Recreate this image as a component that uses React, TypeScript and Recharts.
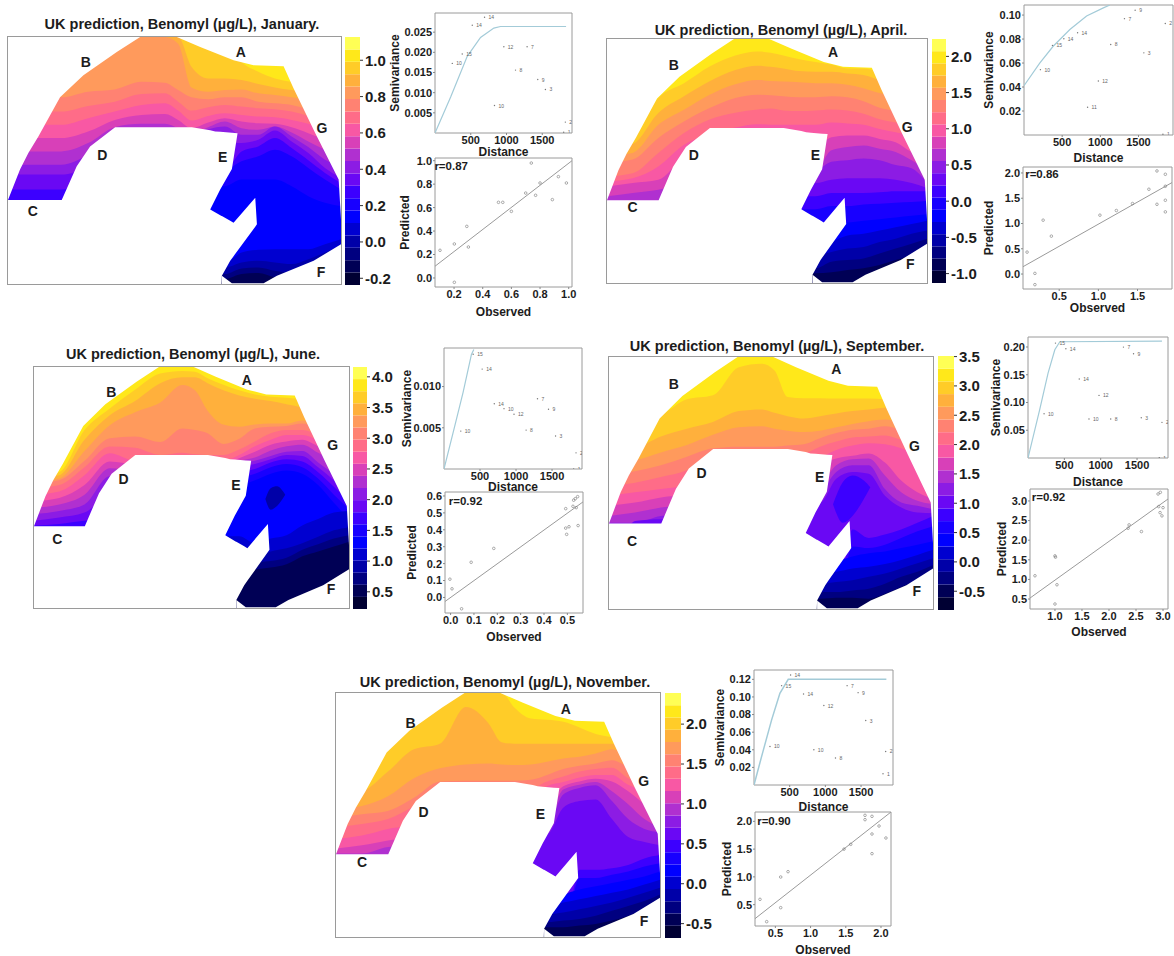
import React from "react";
import {
  ComposedChart, ScatterChart, Area, Scatter, XAxis, YAxis,
  ReferenceArea, ReferenceDot,
} from "recharts";

const FONT = '"Liberation Sans", Arial, sans-serif';
const INK = "#1c1c1c";
const FRAME = "#9a9a9a";

// Colour scale of the legend, low to high.
const PALETTE = [
  "#000033", "#000055", "#000080", "#0000a8", "#0000d0", "#0000ff", "#1800ff",
  "#3c00ff", "#6a08f4", "#8c1ce4", "#b030d0", "#d840b8", "#f858a4", "#ff6c88",
  "#ff8272", "#ff9a5c", "#ffb03c", "#ffcc28", "#ffe81a", "#ffff55",
];

// Map space.
const MAP_W = 998;
const MAP_H = 745;
const COLS = [0, 80, 160, 240, 320, 400, 470, 510, 550, 600, 650, 700, 750, 800, 850, 900, 950, 998];

// White areas around the study region: [x, low, high]
const MASK_TOP: number[][] = [
  [0, 0, 492], [36, 0, 400], [61, 0, 350], [91, 0, 300], [156, 0, 182], [226, 0, 115], [326, 0, 45],
  [396, 0, 0], [506, 0, 0], [576, 0, 30], [676, 0, 70], [736, 0, 85], [826, 0, 88], [856, 0, 155],
  [921, 0, 290], [991, 0, 430], [998, 0, 550],
];
const MASK_VOID: number[][] = [
  [0, 492, 745], [161, 492, 745], [206, 390, 745], [246, 330, 745], [321, 272, 745], [551, 272, 745],
  [606, 281, 745], [606, 281, 520], [621, 285, 490], [636, 286, 460], [671, 289, 398], [688, 290, 290],
];
const MASK_NOTCH: number[][] = [
  [596, 520, 745], [606, 520, 745], [640, 540, 745], [641, 540, 720], [666, 554, 675], [676, 560, 661], [741, 485, 572], [746, 565, 565],
];
const MASK_BOTTOM: number[][] = [
  [641, 720, 745], [671, 743, 745], [766, 743, 745], [806, 720, 745], [916, 675, 745], [998, 625, 745],
];
const MASKS = [MASK_TOP, MASK_VOID, MASK_NOTCH, MASK_BOTTOM];

// Contours per month: [palette level below the line, y at each of COLS]
const V = 745;
const JAN_CONTOURS: [number, number[]][] = [
  [17, [0, 0, 0, 0, 0, 0, 0, 0, 0, 0, 0, 75, 105, 125, 135, 140, 150, 160]],
  [16, [0, 0, 0, 0, 0, 0, 0, 0, 90, 125, 125, 130, 142, 152, 160, 165, 170, 170]],
  [15, [0, 0, 0, 0, 0, 0, 0, 20, 152, 165, 160, 158, 170, 175, 182, 190, 195, 200]],
  [14, [182, 182, 182, 165, 158, 135, 138, 160, 182, 188, 182, 182, 195, 200, 205, 218, 232, 240]],
  [13, [225, 225, 225, 208, 195, 172, 170, 195, 222, 212, 205, 210, 215, 218, 225, 238, 255, 270]],
  [12, [265, 265, 265, 245, 225, 205, 200, 222, 252, 238, 230, 235, 240, 242, 250, 262, 280, 300]],
  [11, [305, 305, 305, 285, 250, 235, 232, 250, 275, 258, 245, 255, 260, 262, 272, 290, 310, 330]],
  [10, [345, 345, 345, 320, 272, 262, 262, 275, 290, 272, 255, 275, 280, 270, 288, 315, 340, 360]],
  [9, [385, 385, 385, 355, 300, 290, 290, 290, 292, 278, 270, 295, 295, 270, 300, 332, 370, 390]],
  [8, [415, 415, 415, 390, 330, 320, 320, 320, 320, 320, 320, 320, 310, 282, 315, 350, 395, 425]],
  [7, [460, 460, 460, 430, 400, 400, 400, 400, 400, 400, 400, 345, 330, 305, 335, 372, 410, 440]],
  [6, [V, V, V, V, V, V, V, V, V, 400, 400, 375, 360, 340, 360, 395, 430, 460]],
  [5, [V, V, V, V, V, V, V, V, V, 450, 450, 430, 430, 430, 450, 480, 500, 510]],
  [4, [V, V, V, V, V, V, V, V, V, 680, 680, 650, 642, 640, 640, 640, 625, 610]],
  [3, [V, V, V, V, V, V, V, V, V, 695, 695, 680, 675, 680, 685, 670, 650, 630]],
  [2, [V, V, V, V, V, V, V, V, V, 715, 715, 698, 695, 705, 712, 700, 680, 660]],
  [1, [V, V, V, V, V, V, V, V, V, 730, 730, 715, 712, 725, 730, V, V, V]],
];
const APR_CONTOURS: [number, number[]][] = [
  [17, [310, 300, 180, 135, 84, 50, 38, 42, 50, 62, 70, 78, 90, 90, 100, 110, 120, 130]],
  [16, [330, 320, 226, 175, 129, 95, 82, 85, 90, 98, 100, 100, 105, 110, 125, 135, 145, 155]],
  [15, [358, 348, 262, 216, 170, 138, 125, 128, 130, 132, 135, 135, 140, 150, 165, 175, 185, 195]],
  [14, [378, 368, 302, 252, 211, 180, 170, 172, 175, 178, 178, 175, 178, 190, 210, 220, 230, 240]],
  [13, [420, 410, 348, 287, 246, 225, 215, 212, 218, 220, 218, 215, 218, 228, 245, 255, 265, 275]],
  [12, [435, 425, 389, 323, 290, 270, 260, 262, 262, 262, 262, 255, 258, 262, 275, 285, 295, 305]],
  [11, [450, 440, 430, 360, 330, 330, 330, 330, 330, 330, 330, 300, 295, 295, 305, 315, 345, 360]],
  [10, [480, 470, 460, 440, 400, 400, 400, 400, 400, 400, 400, 340, 330, 325, 335, 345, 370, 400]],
  [9, [V, V, V, V, V, V, V, V, V, 400, 400, 375, 370, 365, 370, 385, 395, 440]],
  [8, [V, V, V, V, V, V, V, V, V, 440, 440, 430, 425, 425, 425, 430, 440, 455]],
  [7, [V, V, V, V, V, V, V, V, V, 480, 480, 470, 470, 470, 468, 465, 465, 465]],
  [6, [V, V, V, V, V, V, V, V, V, 520, 520, 510, 510, 505, 503, 500, 498, 495]],
  [5, [V, V, V, V, V, V, V, V, V, 560, 560, 560, 560, 555, 550, 545, 540, 535]],
  [4, [V, V, V, V, V, V, V, V, V, 640, 640, 620, 600, 595, 585, 575, 565, 555]],
  [3, [V, V, V, V, V, V, V, V, V, 660, 660, 650, 640, 635, 620, 610, 595, 585]],
  [2, [V, V, V, V, V, V, V, V, V, 700, 700, 680, 675, 670, 655, 640, 625, 610]],
  [1, [V, V, V, V, V, V, V, V, V, 715, 715, 712, 705, 700, 690, 675, 660, 640]],
];
const JUN_CONTOURS: [number, number[]][] = [
  [17, [335, 325, 195, 128, 70, 20, 12, 15, 35, 55, 72, 85, 92, 95, 100, 110, 120, 130]],
  [16, [345, 335, 225, 149, 105, 50, 32, 32, 50, 72, 88, 98, 105, 115, 125, 135, 145, 155]],
  [15, [355, 345, 260, 180, 140, 110, 56, 72, 135, 178, 185, 178, 175, 175, 165, 175, 185, 195]],
  [14, [360, 350, 290, 220, 215, 232, 190, 195, 205, 238, 222, 190, 185, 182, 175, 190, 205, 220]],
  [13, [375, 365, 310, 246, 250, 272, 265, 270, 272, 272, 255, 230, 205, 195, 195, 210, 225, 240]],
  [12, [395, 385, 335, 267, 290, 290, 290, 290, 290, 290, 272, 245, 225, 210, 210, 225, 240, 255]],
  [11, [415, 405, 365, 292, 300, 300, 300, 300, 300, 300, 282, 262, 240, 230, 225, 245, 265, 285]],
  [10, [435, 425, 395, 313, 320, 320, 320, 320, 320, 320, 292, 280, 258, 245, 240, 265, 290, 315]],
  [9, [455, 445, 425, 338, 340, 340, 340, 340, 340, 340, 300, 290, 275, 262, 260, 295, 330, 365]],
  [8, [475, 465, 450, 400, 400, 400, 400, 400, 400, 400, 310, 300, 285, 272, 275, 310, 350, 390]],
  [7, [490, 485, 475, 470, 470, 470, 470, 470, 470, 470, 325, 315, 295, 285, 292, 325, 370, 415]],
  [6, [V, V, V, V, V, V, V, V, V, 340, 340, 330, 310, 300, 310, 345, 395, 440]],
  [5, [V, V, V, V, V, V, V, V, V, 365, 365, 350, 330, 320, 330, 365, 420, 470]],
  [4, [V, V, V, V, V, V, V, V, V, 523, 523, 545, 530, 520, 490, 470, 450, 445]],
  [3, [V, V, V, V, V, V, V, V, V, 600, 600, 590, 570, 560, 545, 525, 505, 495]],
  [2, [V, V, V, V, V, V, V, V, V, 612, 612, 605, 600, 590, 565, 548, 530, 520]],
  [1, [V, V, V, V, V, V, V, V, V, 625, 625, 625, 620, 610, 585, 570, 555, 540]],
];
const SEP_CONTOURS: [number, number[]][] = [
  [17, [210, 200, 172, 125, 113, 30, 20, 40, 118, 122, 122, 123, 123, 123, 125, 130, 135, 140]],
  [16, [280, 270, 235, 212, 192, 160, 155, 165, 175, 182, 175, 167, 160, 155, 150, 160, 170, 180]],
  [15, [315, 305, 282, 260, 230, 208, 205, 212, 218, 222, 218, 208, 198, 190, 185, 195, 205, 215]],
  [14, [348, 338, 320, 295, 270, 265, 265, 265, 262, 258, 240, 225, 215, 212, 205, 215, 225, 235]],
  [13, [382, 372, 355, 335, 290, 290, 290, 290, 290, 285, 265, 250, 238, 235, 232, 245, 258, 270]],
  [12, [410, 400, 390, 380, 330, 330, 330, 330, 330, 330, 300, 275, 262, 255, 258, 270, 290, 310]],
  [11, [440, 430, 415, 405, 350, 350, 350, 350, 350, 350, 320, 300, 292, 285, 312, 365, 400, 420]],
  [10, [470, 460, 445, 435, 400, 400, 400, 400, 400, 400, 380, 320, 302, 300, 350, 400, 425, 435]],
  [9, [490, 490, 470, 465, 420, 420, 420, 420, 420, 420, 400, 340, 320, 320, 390, 430, 440, 450]],
  [8, [V, 485, 480, 480, 450, 450, 450, 450, 450, 430, 430, 360, 340, 345, 410, 445, 460, 462]],
  [7, [V, V, V, V, V, V, V, V, V, V, V, V, 510, 535, 525, 510, 490, 470]],
  [6, [V, V, V, V, V, V, V, V, V, V, V, V, 560, 565, 555, 535, 515, 500]],
  [5, [V, V, V, V, V, V, V, V, V, V, V, 610, 590, 580, 575, 565, 555, 545]],
  [4, [V, V, V, V, V, V, V, V, V, 640, 640, 635, 625, 620, 612, 600, 585, 570]],
  [3, [V, V, V, V, V, V, V, V, V, 670, 670, 665, 660, 650, 640, 625, 610, 595]],
  [2, [V, V, V, V, V, V, V, V, V, 695, 695, 695, 690, 685, 670, 650, 635, 615]],
  [1, [V, V, V, V, V, V, V, V, V, 715, 715, 712, 712, 715, 700, 680, 660, 640]],
];
const NOV_CONTOURS: [number, number[]][] = [
  [17, [0, 0, 0, 0, 0, 0, 0, 0, 45, 78, 82, 88, 105, 125, 135, 150, 160, 170]],
  [16, [310, 300, 240, 172, 155, 43, 93, 150, 155, 155, 155, 155, 155, 155, 155, 170, 185, 200]],
  [15, [355, 345, 315, 260, 230, 218, 215, 218, 220, 218, 210, 200, 195, 185, 172, 190, 205, 220]],
  [14, [380, 370, 360, 320, 270, 268, 268, 268, 268, 265, 250, 232, 222, 215, 205, 225, 240, 255]],
  [13, [410, 400, 385, 345, 290, 290, 290, 290, 290, 290, 270, 255, 240, 232, 228, 260, 280, 300]],
  [12, [445, 435, 415, 400, 330, 330, 330, 330, 330, 330, 285, 272, 258, 250, 250, 280, 300, 320]],
  [11, [475, 465, 450, 440, 360, 360, 360, 360, 360, 360, 340, 285, 270, 262, 270, 300, 340, 380]],
  [10, [490, 490, 470, 465, 400, 400, 400, 400, 400, 380, 380, 295, 280, 272, 300, 340, 385, 410]],
  [9, [V, V, V, V, V, V, V, V, V, 400, 400, 310, 290, 282, 330, 385, 415, 425]],
  [8, [V, V, V, V, V, V, V, V, V, 430, 430, 350, 330, 325, 385, 440, 455, 465]],
  [7, [V, V, V, V, V, V, V, V, V, V, V, V, 540, 540, 535, 525, 505, 495]],
  [6, [V, V, V, V, V, V, V, V, V, V, V, V, 565, 565, 555, 545, 530, 520]],
  [5, [V, V, V, V, V, V, V, V, V, V, V, 620, 600, 590, 580, 570, 560, 545]],
  [4, [V, V, V, V, V, V, V, V, V, 650, 650, 640, 630, 620, 610, 600, 585, 570]],
  [3, [V, V, V, V, V, V, V, V, V, 675, 675, 670, 660, 650, 640, 625, 610, 595]],
  [2, [V, V, V, V, V, V, V, V, V, 700, 700, 695, 690, 680, 665, 650, 635, 615]],
  [1, [V, V, V, V, V, V, V, V, V, 715, 715, 715, 710, 705, 695, 680, 660, 640]],
];

// Closed contours: level, [x, low, high]
const JUN_ISLAND: [number, number[][]] = [3, [[733, 408, 408], [750, 375, 441], [770, 369, 430], [796, 395, 395]]];
const SEP_ISLAND: [number, number[][]] = [7, [[690, 435, 435], [720, 370, 490], [750, 350, 470], [785, 365, 420], [805, 385, 385]]];

// Region letters: [letter, x, y]
const JAN_LETTERS: [string, number, number][] = [["A", 698, 45], ["B", 233, 75], ["C", 74, 525], ["D", 283, 355], ["E", 643, 362], ["F", 938, 708], ["G", 941, 275]];
const APR_LETTERS: [string, number, number][] = [["A", 705, 40], ["B", 208, 81], ["C", 80, 513], ["D", 271, 353], ["E", 650, 353], ["F", 946, 687], ["G", 936, 270]];
const JUN_LETTERS: [string, number, number][] = [["A", 674, 39], ["B", 245, 77], ["C", 74, 533], ["D", 284, 346], ["E", 640, 366], ["F", 941, 685], ["G", 946, 241]];
const SEP_LETTERS: [string, number, number][] = [["A", 700, 36], ["B", 200, 81], ["C", 71, 543], ["D", 285, 344], ["E", 649, 356], ["F", 948, 693], ["G", 941, 262]];
const NOV_LETTERS: [string, number, number][] = [["A", 708, 50], ["B", 230, 92], ["C", 80, 517], ["D", 270, 364], ["E", 630, 370], ["F", 949, 696], ["G", 948, 269]];

// Colour bar ticks
const JAN_BAR = [-0.2, 0, 0.2, 0.4, 0.6, 0.8, 1];
const APR_BAR = [-1, -0.5, 0, 0.5, 1, 1.5, 2];
const JUN_BAR = [0.5, 1, 1.5, 2, 2.5, 3, 3.5, 4];
const SEP_BAR = [-0.5, 0, 0.5, 1, 1.5, 2, 2.5, 3, 3.5];
const NOV_BAR = [-0.5, 0, 0.5, 1, 1.5, 2];

// Variograms: [distance, semivariance, pairs label]
const JAN_VARIO: [number, number, string][] = [[242, 0.01725, "10"], [381, 0.0196, "15"], [521, 0.0267, "14"], [693, 0.0287, "14"], [963, 0.0214, "12"], [1288, 0.0214, "7"], [1126, 0.0156, "8"], [1437, 0.01325, "9"], [1544, 0.0108, "3"], [832, 0.0068, "10"], [1823, 0.0027, "2"], [1800, 0.0002, "1"]];
const JAN_MODEL = [[0, 0], [219, 0.0089], [451, 0.019], [637, 0.0237], [823, 0.026], [916, 0.0264], [1833, 0.0264]];
const APR_VARIO: [number, number, string][] = [[215, 0.0545, "10"], [373, 0.0747, "15"], [522, 0.0803, "14"], [702, 0.0853, "14"], [974, 0.045, "12"], [833, 0.0232, "11"], [1136, 0.0755, "8"], [1316, 0.097, "7"], [1456, 0.104, "9"], [1570, 0.0685, "3"], [1851, 0.093, "2"], [1820, 0.0006, "1"]];
const APR_MODEL = [[0, 0.0411], [206, 0.06], [382, 0.074], [601, 0.088], [820, 0.0993], [1040, 0.106], [1125, 0.1084]];
const JUN_VARIO: [number, number, string][] = [[233, 0.0046, "10"], [405, 0.01392, "15"], [530, 0.01212, "14"], [698, 0.00792, "14"], [833, 0.00732, "10"], [972, 0.00664, "12"], [1140, 0.00472, "8"], [1298, 0.00852, "7"], [1451, 0.00724, "9"], [1549, 0.004, "3"], [1833, 0.00196, "2"], [1800, 0, "1"]];
const JUN_MODEL = [[0, 0], [149, 0.0052], [265, 0.0093], [381, 0.0139], [414, 0.0145]];
const SEP_VARIO: [number, number, string][] = [[221, 0.0798, "10"], [378, 0.207, "15"], [521, 0.1968, "14"], [705, 0.1422, "14"], [977, 0.1128, "12"], [839, 0.0702, "10"], [1138, 0.0702, "8"], [1313, 0.1998, "7"], [1452, 0.1878, "9"], [1558, 0.0726, "3"], [1843, 0.0642, "2"], [1806, 0.0006, "1"]];
const SEP_MODEL = [[0, 0], [161, 0.087], [276, 0.153], [369, 0.195], [438, 0.2094], [1843, 0.2106]];
const NOV_VARIO: [number, number, string][] = [[224, 0.0438, "10"], [387, 0.1128, "15"], [513, 0.1249, "14"], [694, 0.1034, "14"], [839, 0.04, "10"], [979, 0.0902, "12"], [1142, 0.0306, "8"], [1305, 0.1128, "7"], [1459, 0.1049, "9"], [1566, 0.0732, "3"], [1845, 0.0381, "2"], [1808, 0.0128, "1"]];
const NOV_MODEL = [[0, 0], [107, 0.0325], [247, 0.074], [363, 0.1042], [480, 0.12], [1855, 0.12]];

// Observed vs predicted: [observed, predicted]
const JAN_OBS = [[0.102, 0.236], [0.202, 0.29], [0.202, -0.037], [0.289, 0.44], [0.3, 0.264], [0.51, 0.645], [0.54, 0.645], [0.6, 0.568], [0.7, 0.724], [0.739, 0.98], [0.769, 0.705], [0.8, 0.81], [0.886, 0.668], [0.928, 0.864], [0.984, 0.81]];
const JAN_FIT = [[0.067, 0.1], [1.023, 1.0]];
const APR_OBS = [[0.09, 0.434], [0.19, 0.013], [0.19, -0.21], [0.295, 1.066], [0.4, 0.75], [1.02, 1.165], [1.23, 1.257], [1.436, 1.395], [1.645, 1.678], [1.748, 2.04], [1.748, 1.38], [1.855, 1.974], [1.855, 1.737], [1.855, 1.46], [1.855, 1.23]];
const APR_FIT = [[0.038, 0.145], [1.94, 1.81]];
const JUN_OBS = [[-0.003, 0.108], [0.006, 0.051], [0.047, -0.067], [0.088, 0.208], [0.185, 0.29], [0.493, 0.525], [0.493, 0.41], [0.497, 0.373], [0.507, 0.418], [0.524, 0.539], [0.527, 0.575], [0.534, 0.584], [0.538, 0.531], [0.544, 0.596], [0.546, 0.425]];
const JUN_FIT = [[-0.024, -0.024], [0.567, 0.565]];
const SEP_OBS = [[0.63, 1.093], [1.0, 1.6], [1.01, 1.568], [1.037, 0.864], [1.0, 0.373], [2.354, 2.305], [2.372, 2.39], [2.6, 2.22], [2.908, 3.178], [2.95, 3.22], [2.92, 2.856], [3.0, 2.83], [2.945, 2.703], [2.98, 2.62]];
const SEP_FIT = [[0.538, 0.525], [3.092, 3.05]];
const NOV_OBS = [[0.282, 0.596], [0.377, 0.194], [0.576, 0.446], [0.576, 0.998], [0.68, 1.094], [1.475, 1.5], [1.57, 1.586], [1.773, 2.108], [1.773, 2.03], [1.872, 2.09], [1.872, 1.772], [1.872, 1.418], [1.972, 1.916], [2.07, 1.7]];
const NOV_FIT = [[0.211, 0.248], [2.142, 2.168]];

const toRange = (rows: number[][]) => rows.map(([x, lo, hi]) => ({ x, range: [lo, hi] }));

function MapPanel({ box, contours, island, letters }: any) {
  const [left, top, w, h] = box;
  return (
    <div style={{ position: "absolute", left, top, width: w, height: h, outline: `1.5px solid ${FRAME}` }}>
      <ComposedChart width={w} height={h} margin={{ top: 0, right: 0, bottom: 0, left: 0 }}>
        <XAxis type="number" dataKey="x" domain={[0, MAP_W]} allowDataOverflow hide />
        <YAxis type="number" domain={[0, MAP_H]} reversed allowDataOverflow hide />
        <Area data={toRange([[0, 0, MAP_H], [MAP_W, 0, MAP_H]])} dataKey="range" type="linear"
          fill={PALETTE[18]} fillOpacity={1} stroke="none" dot={false} activeDot={false} isAnimationActive={false} />
        {contours.map(([level, ys]: [number, number[]], i: number) => (
          <Area key={`c${i}`} data={toRange(COLS.map((x, k) => [x, ys[k], MAP_H]))} dataKey="range" type="monotone"
            fill={PALETTE[level]} fillOpacity={1} stroke="none" dot={false} activeDot={false} isAnimationActive={false} />
        ))}
        {island ? (
          <Area data={toRange(island[1])} dataKey="range" type="monotone"
            fill={PALETTE[island[0]]} fillOpacity={1} stroke="none" dot={false} activeDot={false} isAnimationActive={false} />
        ) : null}
        {MASKS.map((m, i) => (
          <Area key={`m${i}`} data={toRange(m)} dataKey="range" type="linear"
            fill="#ffffff" fillOpacity={1} stroke="none" dot={false} activeDot={false} isAnimationActive={false} />
        ))}
        {letters.map(([t, x, y]: [string, number, number]) => (
          <ReferenceDot key={t} x={x} y={y} r={0} stroke="none" fill="none"
            label={{ value: t, position: "center", fontSize: 14, fontWeight: 700, fill: INK }} />
        ))}
      </ComposedChart>
    </div>
  );
}

function ColorBar({ box, min, max, ticks, digits = 1 }: any) {
  const [left, top, w, h] = box;
  const step = (max - min) / PALETTE.length;
  const pad = 10;
  return (
    <div style={{ position: "absolute", left, top: top - pad }}>
      <ComposedChart width={w + 50} height={h + pad * 2} margin={{ top: pad, right: 0, bottom: pad, left: 0 }}>
        <XAxis type="number" dataKey="x" domain={[0, 1]} hide />
        <YAxis type="number" orientation="right" width={50} domain={[min, max]} ticks={ticks} interval={0}
          allowDataOverflow axisLine={false} tickSize={3} tickMargin={2} stroke="#333"
          tickFormatter={(v: number) => v.toFixed(digits)}
          tick={{ fontSize: 15, fontWeight: 700, fill: INK }} />
        {PALETTE.map((c, i) => (
          <Area key={i} data={toRange([[0, min + i * step, min + (i + 1) * step], [1, min + i * step, min + (i + 1) * step]])}
            dataKey="range" type="linear" fill={c} fillOpacity={1} stroke="none" dot={false} activeDot={false} isAnimationActive={false} />
        ))}
      </ComposedChart>
    </div>
  );
}

const PointLabel = ({ cx, cy, payload }: any) => (
  <g>
    <circle cx={cx} cy={cy} r={0.7} fill="#777" />
    <text x={cx + 4} y={cy + 2} fontSize={5} fill="#666">{payload.n}</text>
  </g>
);
const HollowPoint = ({ cx, cy }: any) => <circle cx={cx} cy={cy} r={1.3} fill="none" stroke="#777" strokeWidth={0.6} />;
const NoPoint = () => null;

function SmallPlot({ box, xDomain, yDomain, xTicks, yTicks, xDigits, yDigits, xTitle, yTitle, titleBelow, titleLeft, points, line, lineColor, lineWidth, labelled, note }: any) {
  const [x0, y0, x1, y1] = box;
  const L = 50;
  const B = 34;
  const T = 8;
  const R = 14;
  const w = x1 - x0;
  const h = y1 - y0;
  const pts = points.map((p: any[]) => ({ x: p[0], y: p[1], n: p[2] }));
  const model = line.map((p: number[]) => ({ x: p[0], y: p[1] }));
  return (
    <div style={{ position: "absolute", left: x0 - L, top: y0 - T }}>
      <ScatterChart width={w + L + R} height={h + B + T} margin={{ top: T, right: R, bottom: 0, left: 0 }}>
        <XAxis type="number" dataKey="x" domain={xDomain} ticks={xTicks} interval={0} allowDataOverflow height={B}
          axisLine={false} tickSize={2} tickMargin={1} stroke="#888"
          tickFormatter={(v: number) => v.toFixed(xDigits)}
          tick={{ fontSize: 11, fontWeight: 700, fill: INK }}
          label={{ value: xTitle, position: "insideBottom", offset: B - titleBelow - 5, fontSize: 12, fontWeight: 700, fill: INK }} />
        <YAxis type="number" dataKey="y" domain={yDomain} ticks={yTicks} interval={0} allowDataOverflow width={L}
          axisLine={false} tickSize={2} tickMargin={1} stroke="#888"
          tickFormatter={(v: number) => v.toFixed(yDigits)}
          tick={{ fontSize: 11, fontWeight: 700, fill: INK }}
          label={{ value: yTitle, angle: -90, position: "insideLeft", offset: L - titleLeft, fontSize: 12, fontWeight: 700, fill: INK, style: { textAnchor: "middle" } }} />
        <ReferenceArea x1={xDomain[0]} x2={xDomain[1]} y1={yDomain[0]} y2={yDomain[1]} fill="none" stroke={FRAME} strokeWidth={1} />
        <Scatter data={model} line={{ stroke: lineColor, strokeWidth: lineWidth }} shape={NoPoint} isAnimationActive={false} />
        <Scatter data={pts} shape={labelled ? PointLabel : HollowPoint} isAnimationActive={false} />
        {note ? (
          <ReferenceDot x={note[1]} y={note[2]} r={0} stroke="none" fill="none"
            label={{ value: note[0], position: "center", fontSize: 11.5, fontWeight: 700, fill: INK }} />
        ) : null}
      </ScatterChart>
    </div>
  );
}

const BLUE = "#a3cbd8";
const GREY = "#9a9a9a";

function Title({ x, y, text }: any) {
  return (
    <div style={{ position: "absolute", left: x - 200, top: y - 9, width: 400, textAlign: "center", fontSize: 14.5, fontWeight: 700, color: INK, lineHeight: "18px" }}>
      {text}
    </div>
  );
}

export default function App() {
  return (
    <div style={{ position: "absolute", left: 0, top: 0, width: 1174, height: 956, background: "#fff", fontFamily: FONT, overflow: "hidden" }}>
      <Title x={182} y={24} text="UK prediction, Benomyl (µg/L), January." />
      <MapPanel box={[8, 37, 333, 247]} contours={JAN_CONTOURS} letters={JAN_LETTERS} />
      <ColorBar box={[345, 37, 15, 248]} min={-0.237} max={1.128} ticks={JAN_BAR} />
      <SmallPlot box={[435, 13, 572, 133]} xDomain={[0, 1916]} yDomain={[0, 0.02975]} xTicks={[500, 1000, 1500]} yTicks={[0.005, 0.01, 0.015, 0.02, 0.025]} xDigits={0} yDigits={3}
        xTitle="Distance" yTitle="Semivariance" titleBelow={18} titleLeft={40} points={JAN_VARIO} line={JAN_MODEL} lineColor={BLUE} lineWidth={1.2} labelled />
      <SmallPlot box={[435, 158, 572, 287]} xDomain={[0.067, 1.023]} yDomain={[-0.077, 1.023]} xTicks={[0.2, 0.4, 0.6, 0.8, 1]} yTicks={[0, 0.2, 0.4, 0.6, 0.8, 1]} xDigits={1} yDigits={1}
        xTitle="Observed" yTitle="Predicted" titleBelow={24} titleLeft={30} points={JAN_OBS} line={JAN_FIT} lineColor={GREY} lineWidth={1} note={["r=0.87", 0.18, 0.955]} />

      <Title x={781} y={30} text="UK prediction, Benomyl (µg/L), April." />
      <MapPanel box={[607, 39, 320, 244]} contours={APR_CONTOURS} letters={APR_LETTERS} />
      <ColorBar box={[932, 39, 14, 244]} min={-1.13} max={2.24} ticks={APR_BAR} />
      <SmallPlot box={[1024, 5, 1173, 135]} xDomain={[0, 1952]} yDomain={[0, 0.1084]} xTicks={[500, 1000, 1500]} yTicks={[0.02, 0.04, 0.06, 0.08, 0.1]} xDigits={0} yDigits={2}
        xTitle="Distance" yTitle="Semivariance" titleBelow={22} titleLeft={35} points={APR_VARIO} line={APR_MODEL} lineColor={BLUE} lineWidth={1.2} labelled />
      <SmallPlot box={[1023, 167, 1172, 289]} xDomain={[0.038, 1.94]} yDomain={[-0.296, 2.118]} xTicks={[0.5, 1, 1.5]} yTicks={[0, 0.5, 1, 1.5, 2]} xDigits={1} yDigits={1}
        xTitle="Observed" yTitle="Predicted" titleBelow={18} titleLeft={34} points={APR_OBS} line={APR_FIT} lineColor={GREY} lineWidth={1} note={["r=0.86", 0.28, 1.98]} />

      <Title x={193} y={354} text="UK prediction, Benomyl (µg/L), June." />
      <MapPanel box={[34, 367, 315, 241]} contours={JUN_CONTOURS} island={JUN_ISLAND} letters={JUN_LETTERS} />
      <ColorBar box={[353, 367, 14, 242]} min={0.22} max={4.16} ticks={JUN_BAR} />
      <SmallPlot box={[444, 348, 582, 469]} xDomain={[0, 1916]} yDomain={[0, 0.01468]} xTicks={[500, 1000, 1500]} yTicks={[0.005, 0.01]} xDigits={0} yDigits={3}
        xTitle="Distance" yTitle="Semivariance" titleBelow={17} titleLeft={37} points={JUN_VARIO} line={JUN_MODEL} lineColor={BLUE} lineWidth={1.2} labelled />
      <SmallPlot box={[445, 492, 583, 613]} xDomain={[-0.024, 0.567]} yDomain={[-0.092, 0.6235]} xTicks={[0, 0.1, 0.2, 0.3, 0.4, 0.5]} yTicks={[0, 0.1, 0.2, 0.3, 0.4, 0.5, 0.6]} xDigits={1} yDigits={1}
        xTitle="Observed" yTitle="Predicted" titleBelow={23} titleLeft={33} points={JUN_OBS} line={JUN_FIT} lineColor={GREY} lineWidth={1} note={["r=0.92", 0.064, 0.568]} />

      <Title x={777} y={346} text="UK prediction, Benomyl (µg/L), September." />
      <MapPanel box={[609, 357, 324, 252]} contours={SEP_CONTOURS} island={SEP_ISLAND} letters={SEP_LETTERS} />
      <ColorBar box={[938, 356, 16, 254]} min={-0.82} max={3.51} ticks={SEP_BAR} />
      <SmallPlot box={[1028, 337, 1168, 458]} xDomain={[0, 1926]} yDomain={[0, 0.218]} xTicks={[500, 1000, 1500]} yTicks={[0.05, 0.1, 0.15, 0.2]} xDigits={0} yDigits={2}
        xTitle="Distance" yTitle="Semivariance" titleBelow={23} titleLeft={32} points={SEP_VARIO} line={SEP_MODEL} lineColor={BLUE} lineWidth={1.2} labelled />
      <SmallPlot box={[1030, 489, 1168, 609]} xDomain={[0.538, 3.092]} yDomain={[0.246, 3.305]} xTicks={[1, 1.5, 2, 2.5, 3]} yTicks={[0.5, 1, 1.5, 2, 2.5, 3]} xDigits={1} yDigits={1}
        xTitle="Observed" yTitle="Predicted" titleBelow={22} titleLeft={28} points={SEP_OBS} line={SEP_FIT} lineColor={GREY} lineWidth={1} note={["r=0.92", 0.88, 3.1]} />

      <Title x={505} y={682} text="UK prediction, Benomyl (µg/L), November." />
      <MapPanel box={[336, 693, 324, 244]} contours={NOV_CONTOURS} letters={NOV_LETTERS} />
      <ColorBar box={[665, 693, 16, 245]} min={-0.68} max={2.39} ticks={NOV_BAR} />
      <SmallPlot box={[754, 670, 893, 785]} xDomain={[0, 1948]} yDomain={[0, 0.1306]} xTicks={[500, 1000, 1500]} yTicks={[0.02, 0.04, 0.06, 0.08, 0.1, 0.12]} xDigits={0} yDigits={2}
        xTitle="Distance" yTitle="Semivariance" titleBelow={21} titleLeft={34} points={NOV_VARIO} line={NOV_MODEL} lineColor={BLUE} lineWidth={1.5} labelled />
      <SmallPlot box={[755, 812, 891, 926]} xDomain={[0.211, 2.142]} yDomain={[0.116, 2.168]} xTicks={[0.5, 1, 1.5, 2]} yTicks={[0.5, 1, 1.5, 2]} xDigits={1} yDigits={1}
        xTitle="Observed" yTitle="Predicted" titleBelow={23} titleLeft={28} points={NOV_OBS} line={NOV_FIT} lineColor={GREY} lineWidth={1} note={["r=0.90", 0.48, 2.0]} />
    </div>
  );
}
